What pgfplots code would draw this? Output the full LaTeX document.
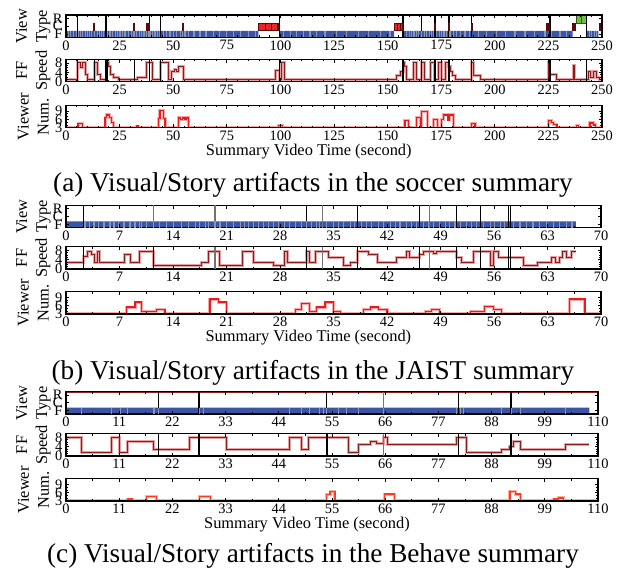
\documentclass[border=0pt]{standalone}
\usepackage{fontspec}
\setmainfont{Liberation Serif}
\usepackage{pgfplots}
\usepackage{pgfplotstable}
\pgfplotsset{compat=1.18}

\definecolor{vblue}{HTML}{3A55A6}
\definecolor{vdiv}{HTML}{8C96B4}
\definecolor{vred}{HTML}{E8262A}
\definecolor{rdark}{HTML}{5A0A0A}
\definecolor{vgreen}{HTML}{6CC040}
\definecolor{gdark}{HTML}{2E5A1A}
\definecolor{ffdark}{HTML}{8E1B1B}
\definecolor{ffhalo}{HTML}{E6A3A3}
\definecolor{vwred}{HTML}{F01818}
\definecolor{vwhalo}{HTML}{F7A8A8}
\definecolor{vwor}{HTML}{FF3B1F}
\definecolor{vworhalo}{HTML}{FFB0A0}
\definecolor{maroonline}{HTML}{8B2323}

\newcommand\tickfont{\fontsize{7.2}{7.2}\selectfont}
\newcommand\labfont{\fontsize{8.2}{10}\selectfont}
\newcommand\capfont{\fontsize{13.6}{15}\selectfont}
\newcommand\rbox[5]{\addplot[#1] coordinates {(#2,#4)(#2,#5)(#3,#5)(#3,#4)(#2,#4)};}

\pgfplotsset{
 panel/.style={
  scale only axis, height=11.1pt, anchor=south west,
  axis on top,
  axis line style={line width=0.6pt},
  tick align=inside,
  major tick length=1.6pt, minor tick length=1pt,
  every tick/.style={black, line width=0.4pt},
  xticklabel style={font=\tickfont, inner sep=1.4pt},
  yticklabel style={font=\tickfont, inner sep=1.6pt},
  /pgf/number format/assume math mode=true,
  ylabel style={font=\labfont, align=center, at={(axis description cs:-0.061,0.5)}, anchor=center},
  xlabel style={font=\labfont, at={(axis description cs:0.453,0)}, anchor=center, yshift=-12pt},
 },
 vt/.style={panel, ymin=0, ymax=3, ytick={0.45,1.5,2.55}, yticklabels={F,C,R}, ylabel={View\\Type}},
 ff/.style={panel, ymin=0, ymax=9.5, ytick={0,4,8}, minor y tick num=3, ylabel={FF\\Speed}},
 vw/.style={panel, ymin=3, ymax=11, ytick={3,6,9}, minor y tick num=2, ylabel={Viewer\\Num.}},
 xa/.style={width=268pt, xmin=0, xmax=250, xtick={0,25,...,250}, minor x tick num=4},
 xb/.style={width=267.5pt, xmin=0, xmax=70, xtick={0,7,...,70}, minor x tick num=1},
 xc/.style={width=266pt, xmin=0, xmax=110, xtick={0,11,...,110}, minor x tick num=1},
 vline/.style={only marks, mark=|, mark size=5.55pt, line width=0.6pt},
 divs/.style={only marks, mark=|, mark size=1.57pt, vdiv, line width=0.55pt},
 cmark/.style={only marks, mark=|, mark size=1.83pt, rdark, line width=1pt},
 trace/.style={const plot, no marks},
}

% ---------------- data: FF speed ----------------
\pgfplotstableread{
x v
0 1
5.3 8
6.6 6
7.6 8
8.9 3
10.2 1
13.4 8
14.6 3
16.0 1
18.8 8
19.7 6.5
20.6 3
22.1 2
24.4 1
33.5 2
37.6 8
40.4 1
44.0 8
47.7 1
49.3 4.4
50.8 5.4
51.6 4.4
52.7 6.6
55.0 1
97.9 5
99.5 1
100.5 8
102.1 1
154.2 2.5
155.8 4.4
157.2 8
157.8 6.6
158.9 1
162.0 8
163.6 1
165.9 8
167.4 1
169.8 8
172.1 1
173.7 8
175.2 1
176.8 8
178.6 6.6
179.5 4.4
180.5 2.5
181.5 1
189.2 8
190.0 2.5
193.1 1
224.9 8
225.7 3
228.9 1
236.6 7
237.4 1
243.5 4.4
244.7 1.8
246.0 4.4
247.5 2
249.0 1
250 1
}\ffA
\pgfplotstableread{
x v
0 2.9
2.27 5.4
2.8 7.6
3.4 6.1
3.7 2.9
4.1 7.6
4.4 2.9
7.6 6.1
8.4 2.9
9.6 7.6
11.5 1.3
17.7 2.9
18.6 7.6
20.1 1.3
23.1 7.6
24.5 2.9
27.1 1.3
28.6 7.6
29.0 2.9
31.5 7.6
31.9 2.9
32.6 7.6
34.3 5.1
36.3 1.3
37.2 2.9
38.1 7.6
39.6 6.1
40.7 2.9
43.3 5.1
44.6 7.6
45.0 5.1
46.2 6.1
46.8 7.6
48.1 6.6
48.5 7.6
51.1 5.1
51.8 2.9
53.3 7.6
55.5 1.3
55.9 7.6
56.6 5.1
59.8 1.3
61.7 2.9
63.5 5.1
64.0 2.9
64.6 5.1
64.9 7.6
65.5 5.1
66.2 7.6
66.7 7.6
}\ffB
\pgfplotstableread{
x v
0 7.7
3.24 1.5
9.4 7.7
11.0 1.5
12.7 6.3
18.06 2.9
25.6 7.7
33.2 2.9
46.2 7.7
48.7 2.9
50.1 7.7
58.4 1.5
60.4 4.8
62.9 6.3
64.2 5.5
65.6 7.7
66.4 4.8
80.8 7.7
82.8 1.5
90.1 2.9
91.8 4.1
92.5 6.3
93.9 2.9
103.2 4.8
108.2 4.8
}\ffC
% ---------------- data: viewer number ----------------
\pgfplotstableread{
x v
0 3
5.6 4.5
7.8 3
18.2 6.8
19.0 7.6
20.2 6.8
21.3 5
22.1 3
32.9 3.6
34.0 3
43.1 6.2
43.8 9.3
45.4 6.2
46.2 3
52.4 6.5
53.5 5.9
54.4 6.5
55.5 6.0
56.3 6.5
57.1 3
99.0 3.8
101.0 3
158.1 5.6
159.7 3
163.3 6.8
165.2 3
165.9 8.8
168.5 3
171.3 5.9
173.2 3
175.2 6
176.0 7.6
178.2 5.8
178.8 7.6
180.7 3
189.2 4.4
190.8 3
224.9 5.6
226.5 5
227.5 4.2
229.0 3
238.2 3.8
239.0 3
244.4 4.7
246.0 4
247.0 3
250 3
}\vwA
\pgfplotstableread{
x v
0 3
7.94 5.5
9.03 7.3
9.9 3.9
11.86 4.7
12.95 3
18.84 8.4
19.93 7.3
21.0 3
30.0 4.7
30.8 6.7
31.9 3.9
32.8 5.5
33.9 7.3
35.0 3.9
35.9 3
38.9 4.5
39.8 5.5
40.9 4.5
42.0 3
47.0 3.9
47.8 4.7
48.9 3
52.9 3.9
54.8 5.7
55.9 4.5
57.0 3
65.9 8.4
67.9 3
70 3
}\vwB
\pgfplotstableread{
x v
0 3
12.7 3.7
13.8 3
16.7 4.6
18.75 3
27.6 4.6
29.8 3
53.8 5.2
54.6 6.4
55.6 3
65.8 5.5
67.9 3
91.8 6.4
93.0 5.5
93.9 3
100.8 3.7
101.8 4.1
102.8 3
110 3
}\vwC

\begin{document}
\begin{tikzpicture}
\useasboundingbox (0,0) rectangle (313pt,286pt);

% ================= (a) soccer =================
\begin{axis}[vt, xa, at={(33pt,267.35pt)}]
\addplot[vline, black] coordinates {(5.3,1.5)(18.7,1.5)(38.9,1.5)(44,1.5)(99.5,1.5)(157.2,1.5)(165.9,1.5)(172.1,1.5)(178.6,1.5)(189.2,1.5)(225.7,1.5)(242.9,1.5)(249.6,1.5)};
\addplot[maroonline, line width=0.9pt] coordinates {(0,3)(250,3)};
\rbox{fill=vblue,draw=none}{0}{89.7}{0}{0.85}
\rbox{fill=vblue,draw=none}{99.5}{153.1}{0}{0.85}
\rbox{fill=vblue,draw=none}{157.3}{236.3}{0}{0.85}
\rbox{fill=vblue,draw=none}{242.9}{248.3}{0}{0.85}
\addplot[divs] coordinates {(1.1,0.425)(2.3,0.425)(3.7,0.425)(4.7,0.425)(5.9,0.425)(6.8,0.425)(7.8,0.425)(8.9,0.425)(9.9,0.425)(10.9,0.425)(12.1,0.425)(13.5,0.425)(14.6,0.425)(15.5,0.425)(16.6,0.425)(17.7,0.425)(19.3,0.425)(20.5,0.425)(21.8,0.425)(22.9,0.425)(23.9,0.425)(25.2,0.425)(26.4,0.425)(27.5,0.425)(29.1,0.425)(30.6,0.425)(31.7,0.425)(32.9,0.425)(34.2,0.425)(35.3,0.425)(36.4,0.425)(37.6,0.425)(38.7,0.425)(39.5,0.425)(40.4,0.425)(41.5,0.425)(42.6,0.425)(43.8,0.425)(45.4,0.425)(46.9,0.425)(48.5,0.425)(50.1,0.425)(51.6,0.425)(53.2,0.425)(54.4,0.425)(55.5,0.425)(57.1,0.425)(59.7,0.425)(62.5,0.425)(65.3,0.425)(68.7,0.425)(71.8,0.425)(74.9,0.425)(78.0,0.425)(81.2,0.425)(85.0,0.425)(88.2,0.425)(101.4,0.425)(104.5,0.425)(107.6,0.425)(110.7,0.425)(113.8,0.425)(116.9,0.425)(120.8,0.425)(126.2,0.425)(130.9,0.425)(136.3,0.425)(141.0,0.425)(146.5,0.425)(151.1,0.425)(158.9,0.425)(160.1,0.425)(161.2,0.425)(162.3,0.425)(163.6,0.425)(164.6,0.425)(165.9,0.425)(167.0,0.425)(168.2,0.425)(169.5,0.425)(170.6,0.425)(171.6,0.425)(172.9,0.425)(174.1,0.425)(175.2,0.425)(176.3,0.425)(177.5,0.425)(179.1,0.425)(180.7,0.425)(182.2,0.425)(183.8,0.425)(186.1,0.425)(188.4,0.425)(192.3,0.425)(196.2,0.425)(200.9,0.425)(204.8,0.425)(209.4,0.425)(214.1,0.425)(218.7,0.425)(223.4,0.425)(226.5,0.425)(230.4,0.425)(233.5,0.425)(244.1,0.425)(245.2,0.425)(246.3,0.425)(247.5,0.425)};
\rbox{fill=vred,draw=rdark,line width=0.4pt}{89.7}{92.8}{0.89}{1.88}
\rbox{fill=vred,draw=rdark,line width=0.4pt}{92.8}{95.9}{0.89}{1.88}
\rbox{fill=vred,draw=rdark,line width=0.4pt}{95.9}{99.5}{0.89}{1.88}
\rbox{fill=vred,draw=rdark,line width=0.4pt}{153.1}{154.7}{0.89}{1.88}
\rbox{fill=vred,draw=rdark,line width=0.4pt}{154.7}{155.8}{0.89}{1.88}
\rbox{fill=vred,draw=rdark,line width=0.4pt}{155.8}{157.3}{0.89}{1.88}
\rbox{fill=vgreen,draw=gdark,line width=0.4pt}{237.9}{240.5}{1.88}{3}
\rbox{fill=vgreen,draw=gdark,line width=0.4pt}{240.5}{242.9}{1.88}{3}
\addplot[cmark] coordinates {(13.2,1.385)(31.9,1.385)(37.9,1.385)(38.5,1.385)(54.7,1.385)(99.1,1.385)(157.0,1.385)(172.1,1.385)(178.6,1.385)(189.2,1.385)(224.5,1.385)(225.3,1.385)(236.5,1.385)(237.3,1.385)(249.2,1.385)};
\end{axis}

\begin{axis}[ff, xa, at={(33pt,245.15pt)}]
\addplot[vline, black] coordinates {(5.3,4.75)(13.2,4.75)(18.7,4.75)(31.9,4.75)(38.9,4.75)(44,4.75)(99.5,4.75)(157.2,4.75)(165.9,4.75)(172.1,4.75)(178.6,4.75)(189.2,4.75)(225.7,4.75)(242.9,4.75)(249.6,4.75)};
\addplot[vline, black, line width=1.2pt] coordinates {(18.9,4.75)};
\addplot[trace, ffhalo, line width=1.5pt] table {\ffA};
\addplot[trace, ffdark, line width=0.5pt] table {\ffA};
\end{axis}

\begin{axis}[vw, xa, at={(33pt,222.15pt)}, xlabel={Summary Video Time (second)}]
\addplot[trace, vwhalo, line width=1.5pt] table {\vwA};
\addplot[trace, vwred, line width=0.6pt] table {\vwA};
\end{axis}
\node[font=\capfont] at (156.5pt,193.5pt) {(a) Visual/Story artifacts in the soccer summary};

% ================= (b) JAIST =================
\begin{axis}[vt, xb, at={(33pt,172.15pt)}]
\addplot[vline, black] coordinates {(2.27,1.5)(31.5,1.5)(38.1,1.5)(46.2,1.5)(51.1,1.5)(54.2,1.5)(57.9,1.5)(58.2,1.5)};
\addplot[vline, black!55] coordinates {(11.5,1.5)(19.5,1.5)(33.6,1.5)(47.6,1.5)};
\rbox{fill=vblue,draw=none}{0}{66.7}{0}{0.85}
\addplot[divs] coordinates {(2.49,0.425)(3.05,0.425)(3.66,0.425)(4.23,0.425)(4.97,0.425)(5.76,0.425)(6.28,0.425)(6.85,0.425)(7.59,0.425)(8.37,0.425)(9.03,0.425)(9.6,0.425)(9.9,0.425)(10.55,0.425)(11.5,0.425)(12.2,0.425)(13.2,0.425)(14.04,0.425)(15.1,0.425)(16.0,0.425)(16.9,0.425)(17.5,0.425)(18.2,0.425)(18.6,0.425)(19.5,0.425)(20.15,0.425)(21.0,0.425)(21.9,0.425)(22.8,0.425)(23.4,0.425)(23.9,0.425)(24.5,0.425)(25.2,0.425)(25.8,0.425)(26.5,0.425)(27.1,0.425)(27.8,0.425)(28.6,0.425)(29.3,0.425)(30.0,0.425)(30.8,0.425)(31.5,0.425)(32.1,0.425)(32.8,0.425)(33.2,0.425)(34.1,0.425)(35.0,0.425)(35.6,0.425)(36.3,0.425)(37.2,0.425)(37.8,0.425)(38.7,0.425)(39.3,0.425)(40.0,0.425)(40.9,0.425)(41.5,0.425)(42.4,0.425)(43.1,0.425)(43.7,0.425)(44.6,0.425)(45.2,0.425)(45.9,0.425)(46.8,0.425)(47.4,0.425)(48.1,0.425)(48.9,0.425)(49.6,0.425)(50.2,0.425)(50.9,0.425)(51.6,0.425)(52.4,0.425)(53.1,0.425)(53.7,0.425)(54.6,0.425)(55.5,0.425)(56.1,0.425)(56.8,0.425)(57.4,0.425)(58.5,0.425)(59.4,0.425)(60.3,0.425)(61.1,0.425)(62.0,0.425)(62.9,0.425)(63.8,0.425)(64.6,0.425)(65.5,0.425)(66.2,0.425)};
\end{axis}

\begin{axis}[ff, xb, at={(33pt,151.5pt)}]
\addplot[vline, black] coordinates {(2.27,4.75)(11.5,4.75)(31.5,4.75)(38.1,4.75)(46.2,4.75)(51.1,4.75)(54.2,4.75)(57.9,4.75)(58.2,4.75)};
\addplot[vline, black!55] coordinates {(19.5,4.75)(33.6,4.75)(47.6,4.75)};
\addplot[trace, ffhalo, line width=1.5pt] table {\ffB};
\addplot[trace, ffdark, line width=0.5pt] table {\ffB};
\end{axis}

\begin{axis}[vw, xb, at={(33pt,129pt)}, xlabel={Summary Video Time (second)}]
\addplot[trace, vwhalo, line width=1.5pt] table {\vwB};
\addplot[trace, vwred, line width=0.6pt] table {\vwB};
\end{axis}
\node[font=\capfont] at (156.5pt,99.5pt) {(b) Visual/Story artifacts in the JAIST summary};

% ================= (c) Behave =================
\begin{axis}[vt, xc, at={(33pt,79pt)}]
\addplot[vline, black] coordinates {(19.2,1.5)(27.5,1.5)(53.9,1.5)(81.2,1.5)(92.0,1.5)};
\addplot[vline, black!55] coordinates {(65.6,1.5)};
\addplot[maroonline, line width=0.9pt] coordinates {(0,3)(110,3)};
\rbox{fill=vblue,draw=none}{0}{108.2}{0}{0.85}
\addplot[divs] coordinates {(3.24,0.425)(9.4,0.425)(11.3,0.425)(12.7,0.425)(18.2,0.425)(19.2,0.425)(27.6,0.425)(28.5,0.425)(46.2,0.425)(48.7,0.425)(50.3,0.425)(52.5,0.425)(53.3,0.425)(53.9,0.425)(56.3,0.425)(58.0,0.425)(60.4,0.425)(65.6,0.425)(80.8,0.425)(81.5,0.425)(82.2,0.425)(90.1,0.425)(92.1,0.425)(93.9,0.425)(103.2,0.425)};
\end{axis}

\begin{axis}[ff, xc, at={(33pt,58pt)}]
\addplot[vline, black] coordinates {(19.2,4.75)(27.5,4.75)(81.2,4.75)(92.0,4.75)};
\addplot[vline, black, line width=1.1pt] coordinates {(53.9,4.75)};
\addplot[vline, black!55] coordinates {(65.6,4.75)};
\addplot[trace, ffhalo, line width=1.5pt] table {\ffC};
\addplot[trace, ffdark, line width=0.5pt] table {\ffC};
\end{axis}

\begin{axis}[vw, xc, at={(33pt,35.5pt)}, xlabel={Summary Video Time (second)}]
\addplot[trace, vworhalo, line width=1.5pt] table {\vwC};
\addplot[trace, vwor, line width=0.6pt] table {\vwC};
\end{axis}
\node[font=\capfont] at (156.5pt,8pt) {(c) Visual/Story artifacts in the Behave summary};
\end{tikzpicture}
\end{document}
